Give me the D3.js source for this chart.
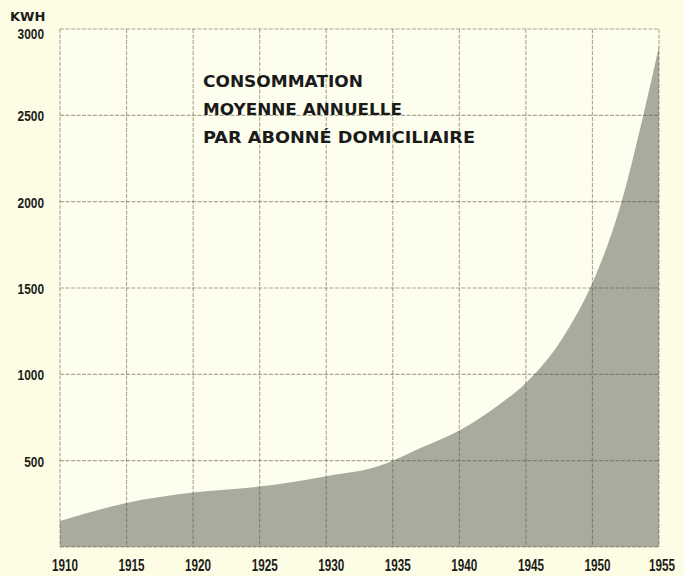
<!DOCTYPE html>
<html>
<head>
<meta charset="utf-8">
<script src="https://cdn.jsdelivr.net/npm/d3@7"></script>
<style>
  html, body { margin: 0; padding: 0; background: #fdfce4; }
  svg { display: block; }
</style>
</head>
<body>
<svg id="chart" width="684" height="576"></svg>
<script>
// ---- Data ----
const years  = [1910, 1915, 1920, 1925, 1930, 1934, 1935, 1937, 1940, 1943, 1945, 1948, 1950, 1952, 1954, 1955];
const values = [150,  255,  315,  350,  410,  470,  500,  570,  675,  825,  950,  1240, 1530, 1950, 2560, 2900];
const xTicks = [1910, 1915, 1920, 1925, 1930, 1935, 1940, 1945, 1950, 1955];
const xTickLabels = ["1910", "1915", "1920", "1925", "1930", "1935", "1940", "1945", "1950", "1955"];
const yTicks = [0, 500, 1000, 1500, 2000, 2500, 3000];
const yTickLabels = ["", "500", "1000", "1500", "2000", "2500", "3000"];
const unitLabel = "KWH";
const titleLines = ["CONSOMMATION", "MOYENNE ANNUELLE", "PAR ABONNÉ DOMICILIAIRE"];

const svg = d3.select("#chart");
const x = d3.scaleLinear().domain([1910, 1955]).range([60, 659]);
const y = d3.scaleLinear().domain([0, 3000]).range([547, 29]);

const data = years.map((yr, i) => ({ yr, v: values[i] }));

// background
svg.append("rect").attr("x", 0).attr("y", 0).attr("width", 684).attr("height", 576).attr("fill", "#fdfce4");
svg.append("rect").attr("x", x(1910)).attr("y", y(3000))
  .attr("width", x(1955) - x(1910)).attr("height", y(0) - y(3000)).attr("fill", "#fefeee");

// area
const area = d3.area()
  .x(d => x(d.yr))
  .y0(y(0))
  .y1(d => y(d.v))
  .curve(d3.curveMonotoneX);
svg.append("path").datum(data).attr("d", area).attr("fill", "#a9ab9f");

// grid
const grid = svg.append("g").attr("stroke", "#5a5238").attr("stroke-opacity", 0.5)
  .attr("stroke-width", 1.1).attr("stroke-dasharray", "4 1.5").attr("fill", "none");
grid.selectAll("line.v").data(xTicks).join("line").attr("class", "v")
  .attr("x1", d => x(d)).attr("x2", d => x(d)).attr("y1", y(3000)).attr("y2", y(0));
grid.selectAll("line.h").data(yTicks).join("line").attr("class", "h")
  .attr("x1", x(1910)).attr("x2", x(1955)).attr("y1", d => y(d)).attr("y2", d => y(d));

const labelFont = "'Liberation Sans', Arial, sans-serif";

// y labels (condensed via textLength)
svg.append("g").selectAll("text").data(yTicks).join("text")
  .attr("x", 44).attr("y", (d, i) => y(d) + (i === yTicks.length - 1 ? 10 : 6))
  .attr("text-anchor", "end")
  .attr("font-family", labelFont).attr("font-weight", "bold").attr("font-size", 15)
  .attr("fill", "#1c1c1c")
  .attr("textLength", (d, i) => yTickLabels[i].length * 6.6 || null)
  .attr("lengthAdjust", "spacingAndGlyphs")
  .text((d, i) => yTickLabels[i]);

// x labels
svg.append("g").selectAll("text").data(xTicks).join("text")
  .attr("x", (d, i) => x(d) + 5 - (i === xTicks.length - 1 ? 2 : 0)).attr("y", 571)
  .attr("text-anchor", "middle")
  .attr("font-family", labelFont).attr("font-weight", "bold").attr("font-size", 16)
  .attr("fill", "#1c1c1c")
  .attr("textLength", (d, i) => xTickLabels[i].length * 6.5)
  .attr("lengthAdjust", "spacingAndGlyphs")
  .text((d, i) => xTickLabels[i]);

// unit label
svg.append("text").attr("x", 10).attr("y", 21)
  .attr("font-family", "'DejaVu Sans', sans-serif").attr("font-weight", "bold").attr("font-size", 13)
  .attr("fill", "#1c1c1c").text(unitLabel);

// title
const titleWidths = [160, 199, 272];
svg.append("g").selectAll("text").data(titleLines).join("text")
  .attr("x", 203).attr("y", (d, i) => 87 + i * 28)
  .attr("font-family", "'DejaVu Sans', sans-serif").attr("font-weight", "bold").attr("font-size", 16)
  .attr("fill", "#1a1a1a")
  .attr("textLength", (d, i) => titleWidths[i])
  .attr("lengthAdjust", "spacingAndGlyphs")
  .text(d => d);
</script>
</body>
</html>
